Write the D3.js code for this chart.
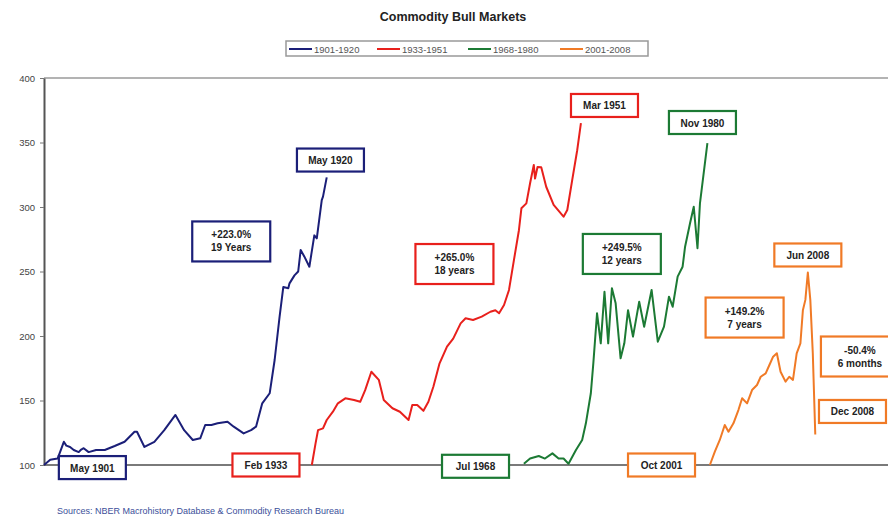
<!DOCTYPE html>
<html>
<head>
<meta charset="utf-8">
<script src="https://cdn.jsdelivr.net/npm/d3@7"></script>
<style>
  html, body { margin: 0; padding: 0; background: #fff; }
  svg { display: block; font-family: Arial, "Liberation Sans", sans-serif; }
</style>
</head>
<body>
<svg id="chart" width="888" height="519"></svg>
<script>
// ---------------- DATA ----------------
const chartTitle = "Commodity Bull Markets";
const seriesNames = ["1901-1920", "1933-1951", "1968-1980", "2001-2008"];
const yTicks = [100, 150, 200, 250, 300, 350, 400];
// timeline month at which each bull market starts (months laid end to end)
const seriesStart = [0, 216, 387, 537];

// [months since start of the bull market, index value]
const series1901 = [[0,100],[5,104],[11,105],[16,118],[18,115],[21,114],[24,111.6],[28,110],[30,112],[32,113],[36,110],[42,111.6],[49,111.6],[57,114.7],[65,118],[73,125.8],[75,125.8],[81,114],[89,118],[97,127],[106,138.8],[113,127],[120,119.4],[126,120.7],[130,131],[135,131],[140,132.3],[148,133.6],[153,129.7],[161,124.5],[167,127],[171,129.7],[176,147.8],[182,155.6],[186,181.4],[190,215],[193,238],[197,237],[198,240.8],[202,247],[205,250],[207,266.7],[210,261.5],[214,253.7],[218,278],[220,275.7],[224,305.4],[225,308],[228,323]];
const series1933 = [[0,100],[3,116.8],[5,127],[9,128.4],[12,134.9],[17,141.3],[21,147.8],[27,151.7],[34,150.4],[39,149],[43,158],[48,172.3],[54,166],[58,150.4],[65,144],[71,141.3],[78,134.9],[81,146.5],[85,146.5],[90,142],[94,149],[98,160.7],[103,178.8],[109,191.7],[114,198],[120,209.8],[124,213.7],[130,212.4],[137,215],[144,218.8],[148,220],[151,217.6],[155,224],[159,235.7],[163,259],[167,282],[169,299],[173,302.8],[176,318.4],[179,332.6],[180,322],[182,331],[185,330.8],[189,315.7],[195,301.6],[203,292.5],[206,297.7],[210,321],[214,344],[217,365]];
const series1968 = [[0,101],[5,105],[12,107],[17,105],[23,109],[28,105],[32,105],[36,101],[42,111.6],[47,119.4],[50,132.3],[54,155.6],[56,178.8],[59,217.6],[62,194.3],[65,234.3],[68,194.3],[71,237],[74,225.3],[78,182.7],[81,194.3],[84,220],[88,199.5],[93,226.6],[97,207.2],[103,235.7],[108,195.6],[113,207.2],[117,230.5],[120,222.7],[124,246],[128,253.7],[130,269.2],[134,287.4],[137,300.2],[140,268],[142,302.9],[148,349.5]];
const series2001 = [[0,100],[4,110.3],[8,119.4],[12,131],[15,125.8],[19,132.3],[23,142.6],[26,151.7],[30,147.8],[34,158.1],[38,162],[41,168.4],[45,171],[48,177.5],[51,184],[54,186.6],[57,172.3],[61,164.6],[64,168.4],[67,166],[70,186.6],[73,194.3],[75,220],[77,228],[79,249.2],[81,228],[83,186.6],[85,123.6]];
const allSeries = [series1901, series1933, series1968, series2001];

// annotations: anchor = [timeline month, index value] for the box centre
const annotations = [
  { lines: ["May 1901"], at: [39, 98], s: 0 },
  { lines: ["May 1920"], at: [231, 336.4], s: 0 },
  { lines: ["+223.0%", "19 Years"], at: [151, 273.3], s: 0 },
  { lines: ["Feb 1933"], at: [179, 100], s: 1 },
  { lines: ["Mar 1951"], at: [452, 378.7], s: 1 },
  { lines: ["+265.0%", "18 years"], at: [331, 255.8], s: 1 },
  { lines: ["Jul 1968"], at: [348, 99], s: 2 },
  { lines: ["Nov 1980"], at: [531, 365.5], s: 2 },
  { lines: ["+249.5%", "12 years"], at: [466, 263.6], s: 2 },
  { lines: ["Oct 2001"], at: [498, 100], s: 3 },
  { lines: ["Jun 2008"], at: [616, 262.8], s: 3 },
  { lines: ["+149.2%", "7 years"], at: [565, 214.3], s: 3 },
  { lines: ["-50.4%", "6 months"], at: [658, 184.1], s: 3 },
  { lines: ["Dec 2008"], at: [652, 141.5], s: 3 }
];
const sourceNote = "Sources: NBER Macrohistory Database & Commodity Research Bureau";

// ---------------- STYLE / LAYOUT ----------------
const colors = ["#1b1f78", "#e8201c", "#1c7a34", "#f07a26"];
const plot = { left: 44, right: 888, top: 78, bottom: 465 };

const svg = d3.select("#chart");

const x = d3.scaleLinear().domain([0, 680]).range([plot.left, plot.left + 680 * 1.24]);
const y = d3.scaleLinear().domain([100, 400]).range([plot.bottom, plot.top]);

// Title
svg.append("text")
  .attr("x", 453).attr("y", 21)
  .attr("text-anchor", "middle")
  .attr("font-size", 12.5).attr("font-weight", "bold").attr("fill", "#222")
  .text(chartTitle);

// Legend
const legend = svg.append("g");
legend.append("rect")
  .attr("x", 286).attr("y", 41).attr("width", 362).attr("height", 15)
  .attr("fill", "#fff").attr("stroke", "#999").attr("stroke-width", 1.5);
const legendX = [289, 377, 468, 560];
seriesNames.forEach((name, i) => {
  legend.append("line")
    .attr("x1", legendX[i]).attr("x2", legendX[i] + 23)
    .attr("y1", 49).attr("y2", 49)
    .attr("stroke", colors[i]).attr("stroke-width", 2);
  legend.append("text")
    .attr("x", legendX[i] + 25).attr("y", 52.5)
    .attr("font-size", 9.5).attr("fill", "#555")
    .text(name);
});

// Top frame line
svg.append("line")
  .attr("x1", plot.left).attr("x2", plot.right)
  .attr("y1", plot.top).attr("y2", plot.top)
  .attr("stroke", "#9a9a9a").attr("stroke-width", 1.5);

// Baseline (x axis at 100)
svg.append("line")
  .attr("x1", plot.left).attr("x2", plot.right)
  .attr("y1", y(100)).attr("y2", y(100))
  .attr("stroke", "#7a7a7a").attr("stroke-width", 2);

// Y axis
const yAxis = svg.append("g")
  .attr("transform", `translate(${plot.left},0)`)
  .call(d3.axisLeft(y).tickValues(yTicks).tickSize(4).tickPadding(5).tickSizeOuter(0));
yAxis.select(".domain").attr("stroke", "#555").attr("stroke-width", 2);
yAxis.selectAll(".tick line").attr("stroke", "#777");
yAxis.selectAll(".tick text").attr("font-size", 9.5).attr("fill", "#444")
  .attr("font-family", "Arial, 'Liberation Sans', sans-serif");

// Series lines
const line = d3.line()
  .x(d => x(d[0]))
  .y(d => y(d[1]));
allSeries.forEach((s, i) => {
  const pts = s.map(d => [seriesStart[i] + d[0], d[1]]);
  svg.append("path")
    .datum(pts)
    .attr("fill", "none")
    .attr("stroke", colors[i])
    .attr("stroke-width", 2)
    .attr("stroke-linejoin", "round")
    .attr("d", line);
});

// Annotation boxes
annotations.forEach(a => {
  const cx = x(a.at[0]), cy = y(a.at[1]);
  const two = a.lines.length > 1;
  const w = two ? 78 : 67;
  const h = two ? 40 : 23;
  const g = svg.append("g");
  g.append("rect")
    .attr("x", cx - w / 2).attr("y", cy - h / 2)
    .attr("width", w).attr("height", h)
    .attr("fill", "#fff")
    .attr("stroke", colors[a.s]).attr("stroke-width", 2.2);
  a.lines.forEach((t, k) => {
    g.append("text")
      .attr("x", cx)
      .attr("y", two ? cy - 3 + k * 13 : cy + 4)
      .attr("text-anchor", "middle")
      .attr("font-size", 10).attr("font-weight", "bold").attr("fill", "#222")
      .text(t);
  });
});

// Source note
svg.append("text")
  .attr("x", 57).attr("y", 514)
  .attr("font-size", 9).attr("fill", "#3b4f9a")
  .text(sourceNote);
</script>
</body>
</html>
